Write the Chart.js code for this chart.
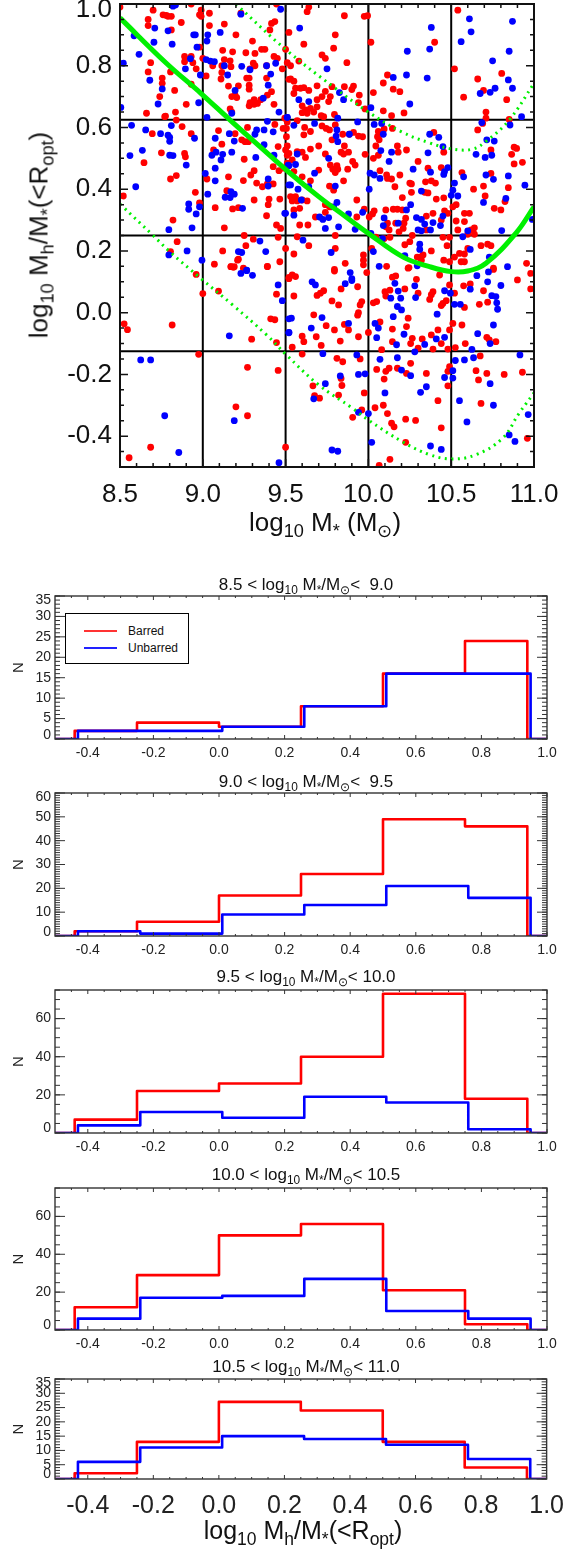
<!DOCTYPE html>
<html>
<head>
<meta charset="utf-8">
<script src="https://cdn.jsdelivr.net/npm/chart.js@4"></script>
<style>
body { margin: 0; background: #fff; width: 576px; height: 1551px; overflow: hidden; position: relative; font-family: "Liberation Sans", sans-serif; color: #111; }
canvas { position: absolute; left: 0; }
.lbl { position: absolute; white-space: nowrap; transform: translate(-50%, -50%); }
.lbl sub { font-size: .7em; vertical-align: baseline; position: relative; top: .32em; line-height: 0; }
.rot { transform: translate(-50%, -50%) rotate(-90deg); }
#legend { position: absolute; left: 65px; top: 613px; width: 122px; height: 49px; border: 1px solid #000; font-size: 12px; background: #fff; z-index: 2; }
#legend i { position: absolute; left: 18px; width: 33px; height: 1.5px; }
#legend span { position: absolute; left: 62px; }
</style>
</head>
<body>
<script>
// top panel, [log10 M*, log10 Mh/M*]
var barredPoints = [
[8.5,.99],[8.7,.98],[8.67,.95],[8.67,.93],[8.76,.965],[8.78,.963],[8.79,.96],[8.81,.96],[8.81,.916],[8.87,.94],[8.93,1],[8.99,.98],[8.98,.965],[8.99,.96],[9.04,.97],[9.23,.97],[9.04,.93],[9.13,.935],[9.2,.9],[8.98,.86],[9.3,.88],[9.355,.853],[9.375,.853],[9.5,.853],[9.415,.937],[9.435,.943],[9.405,.916],[9.445,1],
[8.89,.83],[8.93,.83],[8.89,.813],[8.94,.81],[8.685,.81],[8.67,.78],[8.755,.76],[8.755,.743],[8.805,.78],[8.96,.79],[8.83,.72],[8.93,.74],[8.74,.7],[8.66,.646],[8.775,.637],[8.77,.635],[8.835,.65],[8.9,.675],[9.02,.767],[9,.824],[9.12,.85],[9.18,.845],[9.26,.842],[9.315,.84],[9.13,.82],[9.165,.816],[9.06,.8],[9.115,.8],[9.115,.778],[9.11,.757],[9.17,.797],[9.305,.808],[9.315,.8],[9.285,.79],[9.385,.8],[9.48,.79],[9.43,.83],[9.45,.824],[9.52,.756],[9.265,.76],[9.28,.76],[9.28,.737],[9.28,.724],[9.155,.734],[9.215,.735],[9.385,.76],[9.415,.716],[9.39,.705],[9.175,.7],[9.195,.705],[9.205,.697],[9.31,.69],[9.285,.68],[9.28,.67],[9.31,.675],[9.33,.678],[9.35,.69],[9.43,.675],[9.165,.66],[9.175,.65],
[8.695,.58],[8.875,.603],[8.93,.58],[8.84,.624],[9.095,.59],[8.75,.518],[8.645,.486],[8.89,.516],[8.895,.505],[8.84,.444],[8.805,.433],[8.52,.378],[8.955,.39],[8.98,.356],[8.82,.3],[8.845,.23],[8.805,.198],[9.065,.527],[9.115,.546],[9.025,.433],[9.155,.44],[9.245,.428],[9.145,.395],[9.075,.34],[9.18,.336],[9.215,.34],[9.13,.275],[9.31,.365],[9.195,.58],[9.235,.56],[9.255,.554],[9.275,.554],[9.27,.6],[9.25,.497],[9.31,.46],[9.29,.446],[9.325,.42],[9.36,.408],[9.39,.417],[9.425,.417],[9.4,.368],[9.395,.35],[9.465,.368],[9.385,.314],[9.445,.284],[9.47,.273],[9.25,.25],[9.305,.238],[9.455,.244],[9.5,.208],[9.26,.217],[9.12,.2],[9.215,.173],[9.17,.149],[9.19,.149],[9.39,.149],[9.435,.61],[9.485,.597],[9.505,.597],[9.495,.63],[9.505,.57],[9.455,.538],[9.5,.527],[9.52,.516],[9.425,.473],[9.46,.46],[9.485,.468],
[9.64,.99],[9.63,.975],[9.855,.962],[9.975,.96],[9.995,.962],[10.54,.98],[9.52,.908],[9.8,.9],[9.61,.87],[9.79,.857],[10.015,.876],[10.4,.876],[9.72,.835],[9.74,.824],[9.58,.815],[9.53,.8],[9.51,.81],[9.87,.81],[10.52,.79],[10.805,.775],[9.53,.757],[9.55,.75],[10.66,.757],[10.115,.77],[10.09,.744],[9.69,.735],[9.56,.727],[9.59,.727],[9.61,.729],[9.64,.72],[9.55,.71],[9.78,.732],[9.855,.732],[9.91,.734],[9.9,.723],[9.74,.717],[9.72,.7],[9.77,.7],[9.945,.705],[9.69,.69],[9.76,.684],[9.94,.68],[10.03,.713],[10.15,.724],[10.19,.716],[10.575,.698],[10.695,.72],[10.835,.69],[9.6,.67],[9.69,.667],[9.65,.662],[9.62,.657],[9.6,.648],[9.63,.646],[9.67,.65],[9.98,.66],[10.09,.654],[10.215,.647],[10.14,.638],[10.71,.65],[10.71,.63],[9.715,.638],[9.73,.635],[9.795,.642],[10.66,.592],[10.85,.626],[10.69,.613],
[9.51,.618],[9.57,.622],[9.615,.6],[9.61,.576],[9.65,.587],[9.72,.605],[9.745,.597],[9.765,.592],[9.8,.608],[9.78,.56],[9.845,.578],[9.885,.578],[9.91,.584],[9.94,.572],[9.965,.57],[9.855,.54],[9.7,.54],[9.65,.53],[9.51,.54],[9.51,.51],[9.57,.522],[9.6,.52],[9.62,.503],[9.54,.495],[9.51,.484],[9.835,.52],[9.85,.514],[9.88,.52],[9.98,.513],[9.74,.514],[9.77,.478],[9.81,.476],[9.785,.465],[9.8,.454],[9.815,.465],[9.7,.462],[9.875,.465],[9.905,.49],[9.92,.478],[9.55,.457],[9.6,.44],[9.65,.427],[9.85,.427],[9.765,.41],[9.79,.397],[9.53,.376],[9.56,.376],[9.54,.362],[9.57,.362],[9.6,.365],[9.63,.362],[9.93,.365],
[10.055,.57],[10.045,.54],[10.065,.56],[10.06,.587],[10.095,.595],[10.145,.597],[10.175,.54],[10.18,.52],[10.23,.527],[10.06,.51],[10.03,.5],[10.3,.49],[10.395,.584],[10.07,.46],[10.11,.446],[10.14,.433],[10.19,.446],[10.115,.435],[10.16,.408],[10.25,.42],[10.26,.417],[10.26,.39],[10.205,.373],[10.36,.468],[10.44,.47],[10.345,.424],[10.38,.427],[10.405,.42],[10.34,.39],[10.36,.388],[10.41,.368],[10.455,.372],[10.455,.52],[10.565,.454],[10.74,.451],[10.695,.41],[10.635,.4],[10.845,.405],[10.705,.378],[10.825,.36],[10.8,.333],[10.76,.338],[10.88,.536],[10.895,.532],[10.865,.513],[10.88,.482],[10.93,.487],[10.74,.527],[10.51,.343],[10.53,.35],[10.58,.322],[10.61,.322],[10.58,.295],[10.53,.297],[10.54,.268],[10.64,.275],[10.62,.268],[10.64,.254],[10.6,.254],
[9.975,.335],[9.93,.31],[9.74,.325],[9.775,.343],[10.035,.33],[10.025,.32],[10.005,.31],[10.105,.333],[10.15,.335],[10.175,.335],[10.205,.333],[9.68,.31],[9.585,.338],[9.55,.333],[9.585,.284],[9.635,.284],[9.74,.35],[9.765,.343],[10.46,.33],[10.48,.322],[10.39,.322],[10.44,.3],[10.35,.313],[10.225,.306],[10.215,.29],[10.115,.29],[10.165,.29],[10.21,.273],[10.185,.262],[10.125,.268],[10.105,.278],[10.265,.25],[10.35,.268],[10.45,.244],[10.49,.244],[9.57,.246],[9.8,.25],[9.64,.217],[9.8,.208],[9.55,.19],[9.86,.16],[9.97,.187],[9.97,.17],[9.97,.155],[10.02,.208],[10.045,.245],[10.095,.24],[10.13,.244],[10.25,.23],[10.22,.22],[10.31,.18],[10.295,.18],[10.33,.187],[10.32,.17],[10.38,.2],[10.475,.217],[10.455,.17],[10.49,.165],[10.52,.18],[10.55,.192],[10.58,.19],[10.56,.165],[10.58,.165],[10.6,.208],[10.68,.217],[10.72,.222],[10.74,.217],[10.955,.16],[9.795,.14],[10.245,.146],[10.755,.144],
[8.96,.124],[9,.062],[9.095,.07],[9.07,.157],[9.17,.149],[9.185,.147],[9.245,.144],[9.21,.17],[9.39,.15],[9.465,.165],[9.52,.11],[9.445,.06],[8.525,-.036],[8.545,-.055],[8.815,-.04],[9.41,-.02],[9.435,-.023],[9.295,-.086],[9.445,-.097],[8.975,-.135],[9.27,-.177],[9.455,-.187],[9.2,-.305],[9.27,-.334],[8.685,-.436],[8.555,-.47],[9.5,-.436],
[9.52,.114],[9.56,.117],[9.54,.122],[9.795,.135],[9.99,.13],[9.935,.084],[9.835,.077],[9.73,.071],[9.71,.063],[9.69,.056],[9.55,.054],[9.78,.038],[9.82,.025],[9.96,.036],[9.95,.025],[9.94,0],[9.935,-.008],[10.03,.032],[10.05,.036],[9.67,-.007],[10.11,.15],[10.165,.119],[10.145,.115],[10.24,.144],[10.29,.108],[10.1,.068],[10.105,.054],[10.13,.073],[10.22,.077],[10.3,.063],[10.39,.068],[10.38,.058],[10.37,.043],[10.47,.039],[10.45,.03],[10.44,.023],[10.43,.122],[10.49,.09],[10.52,.063],[10.575,.087],[10.615,.093],[10.695,.071],[10.67,.027],[10.72,.034],[10.58,.017],[10.755,.14],[10.9,.106],[10.98,.127],[10.98,.077],[10.24,-.018],[9.745,-.042],[9.795,-.056],[9.855,-.038],[9.88,-.056],[10,-.064],[9.94,-.078],[9.83,-.092],[9.685,-.078],[9.6,-.076],[9.61,-.094],[9.715,-.106],[9.54,-.112],[10.07,-.03],[10.145,-.053],[10.23,-.045],[10.265,-.083],[10.255,-.1],[10.325,-.085],[10.145,-.094],[10.38,-.072],[10.42,-.056],[10.49,-.056],[10.44,-.1],[10.51,-.035],[10.565,-.04],[10.585,-.1],[10.715,-.08],[10.73,-.088],[10.77,-.094],[10.08,-.12],[10.3,-.115],[10.39,-.118],[10.48,-.118],[10.525,-.113],[9.6,-.134],[9.81,-.148],[9.845,-.159],[9.95,-.15],[10.255,-.164],[10.05,-.184],[10.105,-.19],[10.125,-.18],[10.175,-.18],[10.23,-.197],[10.35,-.197],[10.675,-.14],[10.65,-.188],[10.715,-.197],[10.665,-.218],[10.82,-.2],[10.93,-.193],[10.49,-.175],[10.48,-.19],[10.095,-.215],[9.835,-.213],[9.84,-.236],[9.665,-.237],[10.48,-.237],[9.975,-.26],[9.82,-.267],[9.675,-.269],[9.705,-.277],[10.42,-.285],[10.68,-.294],[10.04,-.308],[10.09,-.3],[9.96,-.315],[9.905,-.339],[10.115,-.327],[10.225,-.345],[10.285,-.349],[10.14,-.358],[10.155,-.37],[10.44,-.373],[10.225,-.42],[10.96,-.407],[10.13,-.475],[10.065,-.495]
];
var unbarredPoints = [
[8.82,.993],[8.835,.997],[8.71,.922],[8.585,.897],[8.79,.913],[8.705,.876],[8.815,.87],[8.945,.9],[8.955,.9],[9.03,.9],[9.025,.88],[9.105,.908],[8.965,.86],[9.47,.983],[9.23,.967],[8.52,.808],[8.615,.837],[8.925,.823],[8.895,.79],[8.985,.77],[8.68,.753],[8.755,.725],[8.73,.676],[8.975,.68],[8.505,.665],[9.02,.82],[9.045,.815],[9.07,.813],[9.13,.8],[9.15,.77],[9.235,.798],[9.285,.787],[9.385,.8],[9.41,.773],[9.44,.808],[9.395,.737],[9.195,.72],[9.365,.695],[9.175,.646],[9.46,.65],[9.025,.633],[9.51,.633],
[8.57,.607],[8.655,.592],[8.745,.58],[8.79,.575],[8.8,.568],[8.8,.555],[8.81,.606],[8.95,.565],[8.635,.526],[8.56,.509],[8.8,.51],[8.82,.509],[8.9,.478],[9.015,.451],[9.075,.468],[9.075,.427],[9.075,.565],[9.055,.51],[9.08,.52],[9.12,.513],[9.11,.495],[9.175,.52],[9.16,.58],[9.19,.556],[8.595,.408],[9.03,.384],[8.915,.352],[8.915,.335],[8.96,.32],[8.98,.343],[9.135,.374],[9.165,.373],[9.17,.392],[9.19,.384],[9.24,.338],[8.795,.269],[8.935,.275],[8.795,.187],[8.905,.2],[8.995,.17],[9.215,.198],[9.235,.195],[9.345,.232],[9.38,.198],[9.265,.138],[9.325,.592],[9.315,.578],[9.37,.592],[9.425,.586],[9.37,.544],[9.32,.503],[9.43,.51],[9.395,.433],[9.395,.41],[9.495,.322],[9.52,.414],[9.515,.478],[9.39,.62],
[9.585,.922],[10.38,.924],[10.61,.952],[10.62,.91],[10.87,.944],[10.56,.878],[10.235,.847],[10.37,.854],[10.85,.847],[10.75,.816],[9.75,.79],[10.15,.762],[10.23,.77],[10.355,.76],[10.845,.754],[10.87,.727],[10.765,.727],[10.735,.714],[10.675,.71],[9.58,.69],[9.64,.684],[9.825,.713],[9.85,.69],[10.25,.676],[10.015,.664],[9.51,.633],[9.815,.63],[10.925,.635],[10.685,.616],[10.855,.608],[9.55,.607],[9.675,.613],[9.935,.618],[10.035,.61],[10.08,.613],[9.81,.592],[9.805,.572],[9.815,.554],[9.885,.578],[10.09,.578],[10.37,.578],[10.425,.568],[10.45,.538],[10.715,.56],[10.76,.556],[10.075,.525],[10.14,.52],[10.36,.518],[9.57,.514],[9.76,.5],[10.125,.49],[10.65,.513],[10.705,.503],[10.745,.51],[9.52,.476],[9.56,.48],[10.48,.47],[10.46,.457],[10.455,.448],[10.27,.465],[10.375,.455],[9.675,.452],[10.71,.446],[10.755,.432],[10.845,.443],[10.575,.44],[10.01,.452],[10.035,.446],[10.07,.435],[9.53,.414],[9.575,.4],[9.64,.408],[9.8,.41],[10.005,.4],[10.52,.42],[10.51,.397],[10.5,.38],[10.54,.378],[10.32,.394],[10.945,.413],[9.595,.365],[9.81,.357],[9.79,.343],[10.83,.37],[10.695,.357],[10.255,.35],[10.23,.333],[9.5,.322],[9.55,.316],[9.88,.32],[9.965,.325],[9.705,.31],[9.725,.302],[9.76,.308],[10.095,.307],[10.09,.282],[10.18,.29],[10.29,.308],[10.32,.302],[10.34,.287],[10.39,.292],[10.45,.313],[10.435,.282],[9.74,.273],[9.82,.278],[9.92,.27],[10.3,.268],[10.32,.265],[10.375,.268],[10.085,.24],[10.015,.257],[10.6,.265],[10.57,.246],[10.805,.266],[10.99,.302],[9.605,.235],[10.31,.222],[10.31,.205],[10.03,.198],[9.775,.195],[10.615,.205],[10.73,.18],[10.22,.185],[10.065,.15],[10.295,.152],[10.84,.149],
[9.23,.127],[9.265,.136],[9.3,.121],[9.455,.09],[9.48,.039],[9.52,-.02],[9.52,-.064],[9.16,-.075],[8.625,-.153],[8.685,-.153],[8.77,-.334],[9.19,-.35],[8.855,-.453],[9.46,-.486],
[9.89,.13],[9.9,.11],[9.9,.104],[9.86,.094],[9.66,.1],[9.68,.09],[10.16,.095],[10.28,.087],[10.18,.07],[10.46,.071],[10.495,.063],[10.615,.076],[10.655,.12],[10.725,.132],[10.72,.1],[10.8,.088],[10.745,.055],[10.77,.052],[10.775,.032],[10.78,.011],[10.135,.047],[10.195,.047],[10.285,.049],[10.175,.02],[10.2,.009],[10.52,.027],[10.555,.027],[10.415,-.005],[10.15,-.013],[9.535,-.018],[9.72,-.016],[10.04,-.035],[10.06,-.05],[9.88,-.035],[9.655,-.05],[9.52,-.065],[10.755,-.04],[10.66,-.068],[10.215,-.07],[10.05,-.081],[10.41,-.085],[10.46,-.08],[10.17,-.104],[10.34,-.103],[10.735,-.1],[10.625,-.119],[10.28,-.127],[9.725,-.133],[9.93,-.137],[10.175,-.146],[10.07,-.151],[10.525,-.155],[10.58,-.153],[10.635,-.146],[10.915,-.137],[10.2,-.186],[10.255,-.204],[10.51,-.188],[9.94,-.2],[9.98,-.198],[9.83,-.205],[10.46,-.21],[10.51,-.212],[9.74,-.23],[10.735,-.23],[10.35,-.24],[10.315,-.258],[10.1,-.26],[9.67,-.279],[10.55,-.285],[10.755,-.3],[9.94,-.323],[10,-.327],[10.965,-.33],[10.595,-.354],[10.85,-.396],[10.885,-.417],[10.02,-.42],[10.375,-.432],[10.44,-.443],[9.78,-.445],[9.815,-.449]
];

// green relation and its upper / lower scatter
var trendX = [8.5,8.78,8.99,9.165,9.345,9.52,9.7,9.865,10,10.21,10.37,10.5,10.6,10.71,10.89,11];
var trendY = [.955,.808,.71,.624,.538,.455,.376,.31,.257,.18,.149,.133,.135,.16,.257,.343];
var upperX = [9.2,9.5,9.8,10,10.2,10.37,10.51,10.63,10.71,10.85,11];
var upperY = [1,.853,.727,.65,.586,.55,.53,.53,.555,.624,.743];
var lowerX = [8.5,8.7,8.8,8.99,9.18,9.385,9.505,9.7,9.905,10,10.205,10.37,10.505,10.65,10.81,10.91,11];
var lowerY = [.352,.25,.198,.11,.025,-.072,-.137,-.234,-.31,-.348,-.418,-.46,-.474,-.46,-.407,-.326,-.26];

// black bin lines
var massCuts = [9,9.5,10,10.5];
var ratioCuts = [.625,.25,-.125];

var topTicksX = [8.5,9,9.5,10,10.5,11];
var topMinorX = [8.6,8.7,8.8,8.9,9.1,9.2,9.3,9.4,9.6,9.7,9.8,9.9,10.1,10.2,10.3,10.4,10.6,10.7,10.8,10.9];
var topTicksY = [-.4,-.2,0,.2,.4,.6,.8,1];
var topMinorY = [-.45,-.35,-.3,-.25,-.15,-.1,-.05,.05,.1,.15,.25,.3,.35,.45,.5,.55,.65,.7,.75,.85,.9,.95];
var histTicksX = [-.4,-.2,0,.2,.4,.6,.8,1];
var histMinorX = [-.45,-.35,-.3,-.25,-.15,-.1,-.05,.05,.1,.15,.25,.3,.35,.45,.5,.55,.65,.7,.75,.85,.9,.95];

// histogram panels
var massBins = [["8.5","&nbsp;9.0"],["9.0","&nbsp;9.5"],["9.5","10.0"],["10.0","10.5"],["10.5","11.0"]];
var redEdges = [-.5,-.44,-.25,0,.25,.5,.75,.94,1];
var blueEdges = [-.5,-.43,-.24,.01,.26,.51,.76,.95,1];
var barredCounts = [
    [0,2,4,3,8,16,24,0],
    [0,2,6,17,26,49,46,0],
    [0,7,22,26,40,73,18,0],
    [0,12,29,50,56,21,3,0],
    [0,2,13,27,24,13,4,0]
];
var unbarredCounts = [
    [0,2,2,3,8,16,16,0],
    [0,2,1,9,13,21,16,0],
    [0,4,11,8,19,16,2,0],
    [0,6,17,18,27,10,6,0],
    [0,6,11,15,14,12,7,0]
];
var panelMax = [35,60,75,75,35];
var panelTicksY = [[0,5,10,15,20,25,30,35],[0,10,20,30,40,50,60],[0,20,40,60],[0,20,40,60],[0,5,10,15,20,25,30,35]];
var panelMinorStep = [1,1,5,5,1];
var panelNudge = [1,1.8,2.5,2.5,1.6];
var panelTop = [596,793,990,1188,1379];
var panelBottom = [739,936,1133,1330,1479];
var titleY = [585,782,977,1175,1367];

var plotLeft = 55, plotRight = 547, gap = 24;

function addLabel(html, x, y, size, rot) {
    var d = document.createElement("div");
    d.className = rot ? "lbl rot" : "lbl";
    d.style.left = x + "px";
    d.style.top = y + "px";
    d.style.fontSize = size + "px";
    d.innerHTML = html;
    document.body.appendChild(d);
}

function addCanvas(top, height) {
    var c = document.createElement("canvas");
    c.width = 576;
    c.height = height;
    c.style.top = top + "px";
    document.body.appendChild(c);
    return c;
}

// box round the plot, ticks pointing inwards on all four sides
function frame(s) {
    return {
        id: "frame",
        afterDraw: function (chart) {
            var g = chart.ctx, a = chart.chartArea, x = chart.scales.x, y = chart.scales.y;
            g.save();
            g.strokeStyle = s.color;
            function markX(list, len) {
                list.forEach(function (v) {
                    var p = x.getPixelForValue(v);
                    g.beginPath(); g.moveTo(p, a.bottom); g.lineTo(p, a.bottom - len);
                    g.moveTo(p, a.top); g.lineTo(p, a.top + len); g.stroke();
                });
            }
            function markY(list, len) {
                list.forEach(function (v) {
                    var p = y.getPixelForValue(v);
                    g.beginPath(); g.moveTo(a.left, p); g.lineTo(a.left + len, p);
                    g.moveTo(a.right, p); g.lineTo(a.right - len, p); g.stroke();
                });
            }
            g.lineWidth = s.tickWidth;
            markX(s.majorX, s.lenX);
            markX(s.minorX, s.lenX / 2);
            markY(s.majorY, s.lenY);
            markY(s.minorY, s.lenY / 2);
            g.lineWidth = s.boxWidth;
            g.strokeRect(a.left, a.top, a.right - a.left, a.bottom - a.top);
            g.restore();
        }
    };
}

function pairs(xs, ys) {
    return xs.map(function (x, i) { return { x: x, y: ys[i] }; });
}

function steps(edges, counts) {
    return edges.map(function (x, i) {
        return { x: x, y: counts[Math.min(i, counts.length - 1)] };
    });
}

function baseOptions(top, bottomSpace, right, xOpts, yOpts) {
    return {
        responsive: false,
        animation: false,
        events: [],
        layout: { padding: { left: 0, right: 576 - right, top: top, bottom: 0 } },
        plugins: { legend: { display: false }, tooltip: { enabled: false } },
        scales: {
            x: Object.assign({
                type: "linear",
                grid: { display: false, drawTicks: false },
                border: { display: false },
                afterFit: function (scale) { scale.height = bottomSpace; }
            }, xOpts),
            y: Object.assign({
                type: "linear",
                grid: { display: false, drawTicks: false },
                border: { display: false }
            }, yOpts)
        }
    };
}

// scatter panel
var topLeft = 120, topRight = 534, topTop = 4, topBottom = 467;
var topDatasets = [];
massCuts.forEach(function (m) {
    topDatasets.push({ data: [{ x: m, y: -.5 }, { x: m, y: 1 }], showLine: true, borderColor: "#000", borderWidth: 2, pointRadius: 0, order: 5 });
});
ratioCuts.forEach(function (r) {
    topDatasets.push({ data: [{ x: 8.5, y: r }, { x: 11, y: r }], showLine: true, borderColor: "#000", borderWidth: 2, pointRadius: 0, order: 5 });
});
topDatasets.push({ data: barredPoints.map(function (p) { return { x: p[0], y: p[1] }; }), backgroundColor: "#f00", borderWidth: 0, pointRadius: 3.4, order: 4 });
topDatasets.push({ data: unbarredPoints.map(function (p) { return { x: p[0], y: p[1] }; }), backgroundColor: "#00f", borderWidth: 0, pointRadius: 3.4, order: 3 });
topDatasets.push({ data: pairs(upperX, upperY), showLine: true, borderColor: "#00f000", borderWidth: 3, borderDash: [2, 4.5], tension: .4, pointRadius: 0, order: 2 });
topDatasets.push({ data: pairs(lowerX, lowerY), showLine: true, borderColor: "#00f000", borderWidth: 3, borderDash: [2, 4.5], tension: .4, pointRadius: 0, order: 2 });
topDatasets.push({ data: pairs(trendX, trendY), showLine: true, borderColor: "#00f000", borderWidth: 5, tension: .4, pointRadius: 0, order: 1 });

new Chart(addCanvas(topTop - gap, topBottom - topTop + gap + 50), {
    type: "scatter",
    data: { datasets: topDatasets },
    options: baseOptions(gap, 50, topRight, {
        min: 8.5, max: 11,
        afterBuildTicks: function (scale) { scale.ticks = topTicksX.map(function (v) { return { value: v }; }); },
        ticks: { padding: 12, color: "#111", maxRotation: 0, autoSkip: false, font: { family: "Liberation Sans", size: 26 }, callback: function (v) { return v.toFixed(1); } }
    }, {
        min: -.5, max: 1,
        afterFit: function (scale) { scale.width = topLeft; },
        afterBuildTicks: function (scale) {
            scale.ticks = topTicksY.map(function (v) { return { value: v == 1 ? .98 : v }; });
        },
        ticks: { padding: 8, color: "#111", autoSkip: false, font: { family: "Liberation Sans", size: 26 }, callback: function (v, i) { return topTicksY[i].toFixed(1); } }
    }),
    plugins: [frame({ color: "#111", boxWidth: 2, tickWidth: 1.5, lenX: 8, lenY: 8,
        majorX: topTicksX, minorX: topMinorX, majorY: topTicksY, minorY: topMinorY })]
});

addLabel("log<sub>10</sub> M<sub>*</sub> (M<sub>⊙</sub>)", 325, 522, 26);
addLabel("log<sub>10</sub> M<sub>h</sub>/M<sub>*</sub>(&lt;R<sub>opt</sub>)", 39, 235, 26, true);

// histograms
massBins.forEach(function (bin, i) {
    var last = i == massBins.length - 1;
    var bottomSpace = last ? 44 : 24;
    var top = panelTop[i], bottom = panelBottom[i];
    var minor = [];
    for (var v = 0; v <= panelMax[i]; v += panelMinorStep[i]) minor.push(v);
    new Chart(addCanvas(top - gap, bottom - top + gap + bottomSpace), {
        type: "scatter",
        data: { datasets: [
            { data: steps(redEdges, barredCounts[i]), showLine: true, stepped: true, borderColor: "#f00", borderWidth: 2.6, borderJoinStyle: "round", pointRadius: 0, order: 2 },
            { data: steps(blueEdges, unbarredCounts[i]), showLine: true, stepped: true, borderColor: "#00f", borderWidth: 2.6, borderJoinStyle: "round", pointRadius: 0, order: 1 }
        ] },
        options: baseOptions(gap, bottomSpace, plotRight, {
            min: -.5, max: 1,
            afterBuildTicks: function (scale) { scale.ticks = histTicksX.map(function (v) { return { value: v }; }); },
            ticks: { padding: last ? 12 : 6, color: "#222", maxRotation: 0, autoSkip: false, font: { family: "Liberation Sans", size: last ? 25 : 14 }, callback: function (v) { return v.toFixed(1); } }
        }, {
            min: 0, max: panelMax[i],
            title: { display: true, text: "N", color: "#222", font: { family: "Liberation Sans", size: 15 }, padding: { top: 10, bottom: 0 } },
            afterFit: function (scale) { scale.width = plotLeft; },
            afterBuildTicks: function (scale) {
                scale.ticks = panelTicksY[i].map(function (v) {
                    if (v == 0) return { value: panelNudge[i] };
                    if (v == panelMax[i]) return { value: v - panelNudge[i] };
                    return { value: v };
                });
            },
            ticks: { padding: 4, color: "#222", autoSkip: false, font: { family: "Liberation Sans", size: 14 }, callback: function (v, k) { return String(panelTicksY[i][k]); } }
        }),
        plugins: [frame({ color: "#333", boxWidth: 1.4, tickWidth: 1, lenX: 4, lenY: 10,
            majorX: histTicksX, minorX: histMinorX, majorY: panelTicksY[i], minorY: minor })]
    });
    addLabel(bin[0] + " &lt; log<sub>10</sub> M<sub>*</sub>/M<sub>⊙</sub>&lt; " + bin[1], 306, titleY[i], 17);
});

addLabel("log<sub>10</sub> M<sub>h</sub>/M<sub>*</sub>(&lt;R<sub>opt</sub>)", 303, 1530, 25);

var legend = document.createElement("div");
legend.id = "legend";
legend.innerHTML = '<i style="top:16px;background:#f33"></i><span style="top:10px">Barred</span>' +
    '<i style="top:33px;background:#22f"></i><span style="top:27px">Unbarred</span>';
document.body.appendChild(legend);
</script>
</body>
</html>
